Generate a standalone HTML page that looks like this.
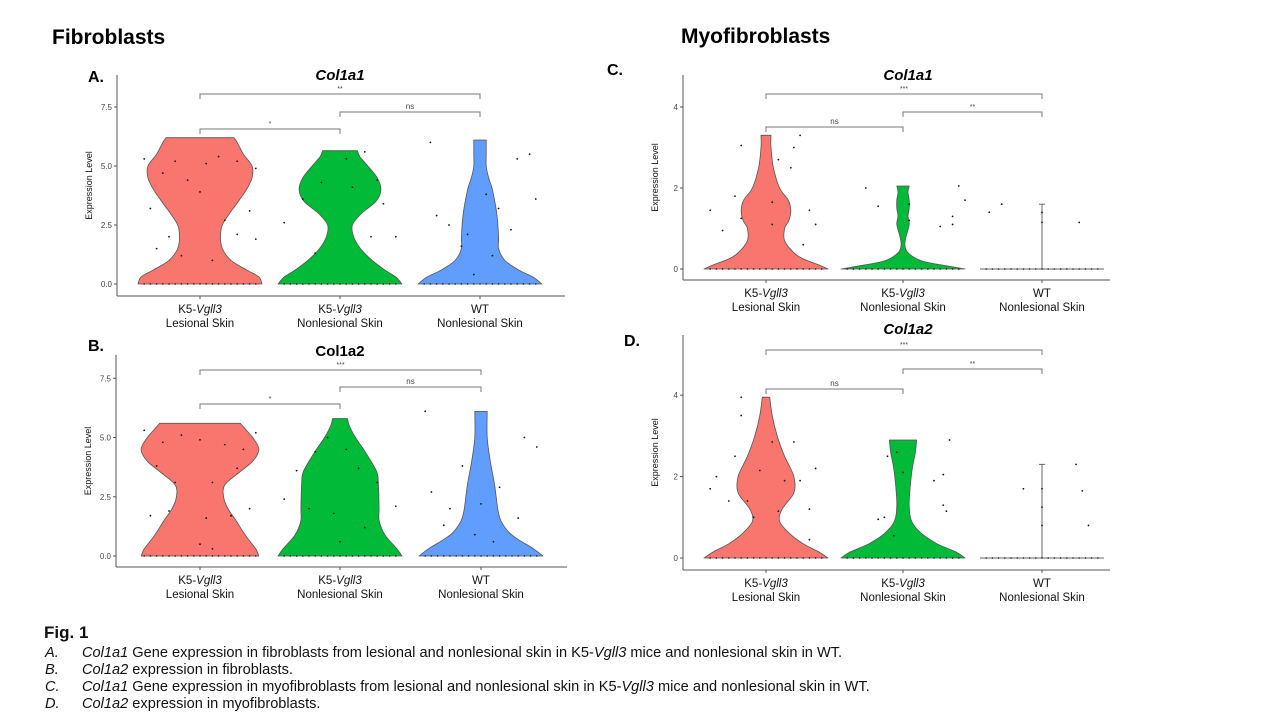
<!DOCTYPE html>
<html><head><meta charset="utf-8"><style>
body{margin:0;background:#fff;}
svg{display:block;font-family:"Liberation Sans",Arial,sans-serif;}
</style></head><body>
<svg id="fig" width="1280" height="720" viewBox="0 0 1280 720">
<text x="52" y="44" font-size="21" font-weight="bold">Fibroblasts</text>
<text x="681" y="43" font-size="21" font-weight="bold">Myofibroblasts</text>
<g id="caption" font-size="14.6" fill="#111">
<text x="44" y="638" font-size="17" font-weight="bold">Fig. 1</text>
<text y="657"><tspan x="45" font-style="italic">A.</tspan><tspan x="82" font-style="italic">Col1a1</tspan> Gene expression in fibroblasts from lesional and nonlesional skin in K5-<tspan font-style="italic">Vgll3</tspan> mice and nonlesional skin in WT.</text>
<text y="674"><tspan x="45" font-style="italic">B.</tspan><tspan x="82" font-style="italic">Col1a2</tspan> expression in fibroblasts.</text>
<text y="691"><tspan x="45" font-style="italic">C.</tspan><tspan x="82" font-style="italic">Col1a1</tspan> Gene expression in myofibroblasts from lesional and nonlesional skin in K5-<tspan font-style="italic">Vgll3</tspan> mice and nonlesional skin in WT.</text>
<text y="708"><tspan x="45" font-style="italic">D.</tspan><tspan x="82" font-style="italic">Col1a2</tspan> expression in myofibroblasts.</text>
</g>
</svg>
<script>
// ---- data ----
const groups = ["K5-Vgll3 Lesional Skin","K5-Vgll3 Nonlesional Skin","WT Nonlesional Skin"];
const colors = ["#F8766D","#00BA38","#619CFF"];
const ticksA = [0,2.5,5,7.5];
const ticksC = [0,2,4];
// violin profiles: [value, relative half-width]
const violinA = [
 [[0,1],[0.3,0.95],[0.6,0.75],[1,0.5],[1.5,0.36],[2,0.33],[2.5,0.36],[3,0.48],[3.5,0.62],[4,0.75],[4.5,0.84],[5,0.84],[5.5,0.7],[6,0.6],[6.2,0.55]],
 [[0,1],[0.3,0.9],[0.6,0.72],[1,0.52],[1.5,0.33],[2,0.22],[2.5,0.2],[3,0.35],[3.5,0.58],[4,0.66],[4.5,0.6],[5,0.45],[5.4,0.32],[5.65,0.28]],
 [[0,1],[0.3,0.85],[0.6,0.62],[1,0.4],[1.5,0.3],[2,0.3],[3,0.27],[4,0.2],[4.5,0.14],[5,0.1],[5.5,0.1],[6.1,0.1]]
];
const violinB = [
 [[0,0.95],[0.3,0.9],[0.7,0.78],[1,0.7],[1.5,0.58],[2,0.45],[2.5,0.38],[3,0.4],[3.5,0.62],[4,0.85],[4.5,0.95],[5,0.85],[5.3,0.75],[5.6,0.65]],
 [[0,1],[0.3,0.92],[0.7,0.78],[1,0.7],[1.5,0.63],[2,0.63],[3,0.62],[3.5,0.6],[4,0.5],[4.5,0.38],[5,0.25],[5.5,0.15],[5.8,0.12]],
 [[0,1],[0.3,0.85],[0.7,0.6],[1,0.45],[1.5,0.32],[2,0.27],[3,0.22],[4,0.15],[5,0.1],[6.1,0.1]]
];
const violinC = [
 [[0,1],[0.1,0.85],[0.25,0.6],[0.4,0.45],[0.7,0.3],[1.0,0.3],[1.2,0.37],[1.45,0.4],[1.7,0.36],[2,0.22],[2.5,0.12],[3,0.08],[3.3,0.08]],
 [[0,1],[0.08,0.7],[0.2,0.3],[0.4,0.08],[0.6,0.03],[0.8,0.05],[1.1,0.1],[1.3,0.08],[1.5,0.1],[1.7,0.1],[1.9,0.08],[2.05,0.1]],
 null
];
const violinD = [
 [[0,1],[0.15,0.85],[0.35,0.6],[0.6,0.38],[0.9,0.22],[1.2,0.26],[1.6,0.45],[2,0.45],[2.5,0.3],[3,0.18],[3.5,0.1],[3.95,0.06]],
 [[0,1],[0.15,0.85],[0.35,0.55],[0.6,0.3],[0.9,0.14],[1.3,0.1],[1.8,0.12],[2.2,0.15],[2.6,0.2],[2.9,0.22]],
 null
];
// WT single-point error line (myofibroblasts)
const wtLineC = 1.6, wtLineD = 2.3;
// jittered points: [relative x offset, value]
const ptsA = [
 [[-0.9,5.3],[-0.6,4.7],[-0.4,5.2],[-0.2,4.4],[0.1,5.1],[0.3,5.4],[0.6,5.2],[0.9,4.9],[-0.8,3.2],[-0.5,2.0],[0.0,3.9],[0.4,2.7],[0.8,3.1],[-0.3,1.2],[0.2,1.0],[-0.7,1.5],[0.6,2.1],[0.9,1.9]],
 [[-0.6,3.6],[-0.3,4.3],[0.4,5.6],[0.6,4.4],[0.2,4.1],[-0.4,1.3],[0.5,2.0],[0.9,2.0],[-0.9,2.6],[0.1,5.3],[0.7,3.4]],
 [[-0.7,2.9],[-0.5,2.5],[-0.2,2.1],[0.1,3.8],[0.3,3.2],[0.5,2.3],[0.2,1.2],[-0.3,1.6],[0.8,5.5],[0.6,5.3],[-0.8,6.0],[0.9,3.6],[-0.1,0.4]]
];
const ptsB = [
 [[-0.9,5.3],[-0.6,4.8],[-0.3,5.1],[0.0,4.9],[0.4,4.7],[0.7,4.5],[0.9,5.2],[-0.7,3.8],[-0.4,3.1],[0.2,3.1],[0.6,3.7],[-0.8,1.7],[-0.5,1.9],[0.1,1.6],[0.5,1.7],[0.8,2.0],[0.0,0.5],[0.2,0.3]],
 [[-0.7,3.6],[-0.4,4.4],[-0.2,5.0],[0.1,4.5],[0.3,3.7],[0.6,3.1],[-0.5,2.0],[-0.1,1.8],[0.4,1.2],[0.9,2.1],[-0.9,2.4],[0.0,0.6]],
 [[-0.8,2.7],[-0.5,2.0],[-0.3,3.8],[0.0,2.2],[0.3,2.9],[0.6,1.6],[0.9,4.6],[-0.6,1.3],[-0.1,0.9],[0.2,0.6],[0.7,5.0],[-0.9,6.1]]
];
const ptsC = [
 [[-0.9,1.45],[-0.7,0.95],[-0.5,1.8],[-0.4,1.25],[-0.4,3.05],[0.1,1.65],[0.2,2.7],[0.4,2.5],[0.45,3.0],[0.55,3.3],[0.7,1.45],[0.8,1.1],[0.6,0.6],[0.1,1.1]],
 [[-0.6,2.0],[-0.4,1.55],[0.1,1.6],[0.1,1.2],[0.6,1.05],[0.8,1.3],[0.9,2.05],[1.0,1.7],[0.8,1.1]],
 [[-0.85,1.4],[-0.65,1.6],[0.0,1.4],[0.0,1.15],[0.6,1.15]]
];
const ptsD = [
 [[-0.9,1.7],[-0.8,2.0],[-0.6,1.4],[-0.5,2.5],[-0.4,3.5],[-0.4,3.95],[-0.3,1.4],[-0.2,1.0],[-0.1,2.15],[0.1,2.85],[0.2,1.15],[0.3,1.9],[0.45,2.85],[0.55,1.9],[0.7,1.2],[0.8,2.2],[0.7,0.45]],
 [[-0.4,0.95],[-0.3,1.0],[-0.25,2.5],[-0.1,2.6],[0.0,2.1],[-0.15,0.55],[0.5,1.9],[0.65,2.05],[0.65,1.3],[0.75,2.9],[0.7,1.15]],
 [[-0.3,1.7],[0.0,1.7],[0.0,1.25],[0.0,0.8],[0.55,2.3],[0.65,1.65],[0.75,0.8]]
];
// significance brackets: [fromGroup, toGroup, label]
const sigA = [[0,1,"*"],[1,2,"ns"],[0,2,"**"]];
const sigB = [[0,1,"*"],[1,2,"ns"],[0,2,"***"]];
const sigC = [[0,1,"ns"],[1,2,"**"],[0,2,"***"]];

// ---- layout ----
const svg = document.getElementById('fig');
const NS = "http://www.w3.org/2000/svg";
function mk(tag, attrs, parent){const e=document.createElementNS(NS,tag);for(const k in attrs)e.setAttribute(k,attrs[k]);(parent||svg).appendChild(e);return e;}
function smooth(pts){ // catmull-rom through pts, returns path segment (no initial M)
 let d='';
 for(let i=0;i<pts.length-1;i++){
  const p0=pts[Math.max(0,i-1)],p1=pts[i],p2=pts[i+1],p3=pts[Math.min(pts.length-1,i+2)];
  const c1=[p1[0]+(p2[0]-p0[0])/6,p1[1]+(p2[1]-p0[1])/6];
  const c2=[p2[0]-(p3[0]-p1[0])/6,p2[1]-(p3[1]-p1[1])/6];
  d+=` C${c1[0].toFixed(1)},${c1[1].toFixed(1)} ${c2[0].toFixed(1)},${c2[1].toFixed(1)} ${p2[0].toFixed(1)},${p2[1].toFixed(1)}`;
 }
 return d;
}

const panels = [
 {id:"a",label:"A.",lx:88,ly:82,title:"Col1a1",italic:true,tx:340,ty:80,ax:117,axTop:75,axRight:565,axBottom:296,y0:284,ppu:23.6,cx:[200,340,480],hw:62,ticks:ticksA,fmt:1,viol:violinA,pts:ptsA,sig:sigA,sigY:[129,112,94],wt:null},
 {id:"b",label:"B.",lx:88,ly:351,title:"Col1a2",italic:false,tx:340,ty:356,ax:116,axTop:355,axRight:567,axBottom:567,y0:556,ppu:23.7,cx:[200,340,481],hw:62,ticks:ticksA,fmt:1,viol:violinB,pts:ptsB,sig:sigB,sigY:[404,387,370],wt:null},
 {id:"c",label:"C.",lx:607,ly:75,title:"Col1a1",italic:true,tx:908,ty:80,ax:683,axTop:75,axRight:1110,axBottom:280,y0:269,ppu:40.5,cx:[766,903,1042],hw:62,ticks:ticksC,fmt:0,viol:violinC,pts:ptsC,sig:sigC,sigY:[127,112,94],wt:wtLineC},
 {id:"d",label:"D.",lx:624,ly:346,title:"Col1a2",italic:true,tx:908,ty:334,ax:683,axTop:335,axRight:1110,axBottom:570,y0:558,ppu:40.7,cx:[766,903,1042],hw:62,ticks:ticksC,fmt:0,viol:violinD,pts:ptsD,sig:sigC,sigY:[389,369,350],wt:wtLineD}
];

panels.forEach(p=>{
 const g = mk('g',{});
 
 
 const Y = v => p.y0 - v*p.ppu;
 const lab = mk('text',{x:p.lx,y:p.ly,'font-size':16,'font-weight':'bold'},g); lab.textContent=p.label;
 
 
 const t = mk('text',{x:p.tx,y:p.ty,'font-size':15,'font-weight':'bold','font-style':p.italic?'italic':'normal','text-anchor':'middle'},g); t.textContent=p.title;
 
 
 const ya = mk('line',{x1:p.ax,y1:p.axTop,x2:p.ax,y2:p.axBottom,stroke:'#555','stroke-width':1},g);
 
 
 const xa = mk('line',{x1:p.ax,y1:p.axBottom,x2:p.axRight,y2:p.axBottom,stroke:'#555','stroke-width':1},g);
 
 
 p.ticks.forEach(v=>{
  mk('line',{x1:p.ax-3,y1:Y(v),x2:p.ax,y2:Y(v),stroke:'#555'},g);
  const tl = mk('text',{x:p.ax-5,y:Y(v)+3,'font-size':8,fill:'#444','text-anchor':'end'},g);
  tl.textContent = v.toFixed(p.fmt);
  
  
 });
 const ymid=(p.axTop+p.axBottom)/2;
 const yt = mk('text',{x:0,y:0,'font-size':9,fill:'#111','text-anchor':'middle',transform:`translate(${p.ax-25},${ymid}) rotate(-90)`},g);
 yt.textContent='Expression Level';
 
 
 groups.forEach((gname,i)=>{
  const cx=p.cx[i];
  mk('line',{x1:cx,y1:p.axBottom,x2:cx,y2:p.axBottom+3,stroke:'#555'},g);
  const parts=gname.split(' ');
  const l1 = mk('text',{x:cx,y:p.axBottom+17,'font-size':11.5,'text-anchor':'middle',fill:'#111'},g);
  if(parts[0]==='WT'){l1.textContent='WT';}
  else{const s1=mk('tspan',{},l1);s1.textContent='K5-';const s2=mk('tspan',{'font-style':'italic'},l1);s2.textContent='Vgll3';}
  
  
  const l2 = mk('text',{x:cx,y:p.axBottom+31,'font-size':11.5,'text-anchor':'middle',fill:'#111'},g);
  l2.textContent = parts.slice(-2).join(' ');
  
  
  const prof=p.viol[i];
  if(prof){
   const right=prof.map(([v,w])=>[cx+w*p.hw,Y(v)]);
   const left=prof.slice().reverse().map(([v,w])=>[cx-w*p.hw,Y(v)]);
   let d=`M${right[0][0].toFixed(1)},${right[0][1].toFixed(1)}`+smooth(right)+
     ` L${left[0][0].toFixed(1)},${left[0][1].toFixed(1)}`+smooth(left)+' Z';
   const vp=mk('path',{d:d,fill:colors[i],stroke:'#555','stroke-width':0.8,'stroke-linejoin':'round'},g);
   
   
  } else {
   const fl=mk('line',{x1:cx-p.hw,y1:Y(0),x2:cx+p.hw,y2:Y(0),stroke:'#666','stroke-width':1},g);
   
   
   const wl=mk('line',{x1:cx,y1:Y(0),x2:cx,y2:Y(p.wt),stroke:'#666','stroke-width':1},g);
   
   
   mk('line',{x1:cx-3,y1:Y(p.wt),x2:cx+3,y2:Y(p.wt),stroke:'#666'},g);
  }
  for(let k=-9;k<=9;k++){mk('circle',{cx:cx+k*p.hw/10,cy:Y(0),r:0.8,fill:'#111'},g);}
  p.pts[i].forEach(([dx,v])=>{
   const c=mk('circle',{cx:cx+dx*p.hw,cy:Y(v),r:0.9,fill:'#111'},g);
   
   
  });
 });
 p.sig.forEach((s,k)=>{
  const y=p.sigY[k], x1=p.cx[s[0]], x2=p.cx[s[1]];
  const br=mk('path',{d:`M${x1},${y+5} L${x1},${y} L${x2},${y} L${x2},${y+5}`,fill:'none',stroke:'#777','stroke-width':1},g);
  
  
  const st=mk('text',{x:(x1+x2)/2,y:y-3,'font-size':s[2]==='ns'?8:7,fill:'#444','text-anchor':'middle'},g);
  st.textContent=s[2];
  
  
 });
});
</script>
</body></html>
